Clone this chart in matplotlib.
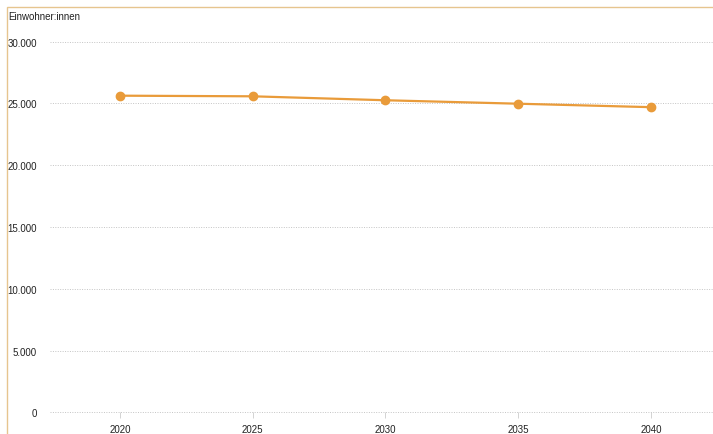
import matplotlib
matplotlib.use("Agg")
import matplotlib.pyplot as plt
from matplotlib.patches import Rectangle
from matplotlib.ticker import FuncFormatter

years = [2020, 2025, 2030, 2035, 2040]
population = [25630, 25580, 25260, 24980, 24700]
y_ticks = [0, 5000, 10000, 15000, 20000, 25000, 30000]
y_title = "Einwohner:innen"

plt.rcParams['font.family'] = ['Liberation Sans', 'DejaVu Sans']

W, H = 713, 435
fig = plt.figure(figsize=(W / 100, H / 100), dpi=100)
fig.patch.set_facecolor("white")

# frame border (left and top visible)
fig.add_artist(Rectangle((7 / W, -0.05), 1.2, (H - 8) / H + 0.05,
                         transform=fig.transFigure, fill=False,
                         edgecolor="#e6c58f", linewidth=1.0))

left = 50 / W
bottom = (H - 413.3) / H
height = 370.6 / H
ax = fig.add_axes([left, bottom, 1 - left, height])

ax.plot(years, population, color="#e99b3a", linewidth=1.6, marker="o",
        markersize=6, zorder=3, clip_on=False)

ax.set_xlim(2017.37, 2042.33)
ax.set_ylim(0, 30000)
ax.set_yticks(y_ticks)
ax.set_xticks(years)
ax.yaxis.set_major_formatter(FuncFormatter(lambda v, p: f"{int(v):,}".replace(",", ".")))

for s in ax.spines.values():
    s.set_visible(False)

ax.grid(axis="y", linestyle=(0, (1, 1.5)), color="#c4c4c4", linewidth=0.7)
for gl in ax.get_ygridlines():
    gl.set_clip_on(False)
ax.set_axisbelow(True)
ax.tick_params(axis="y", length=0, pad=9.5, labelsize=7, labelcolor="#222222")
ax.tick_params(axis="x", length=4.5, width=0.6, color="#cccccc", pad=4,
               labelsize=7, labelcolor="#222222")

fig.text(8 / W, 1 - 17 / H, y_title, fontsize=7, color="#222222",
         ha="left", va="center")

fig.savefig("out.png", dpi=100)
